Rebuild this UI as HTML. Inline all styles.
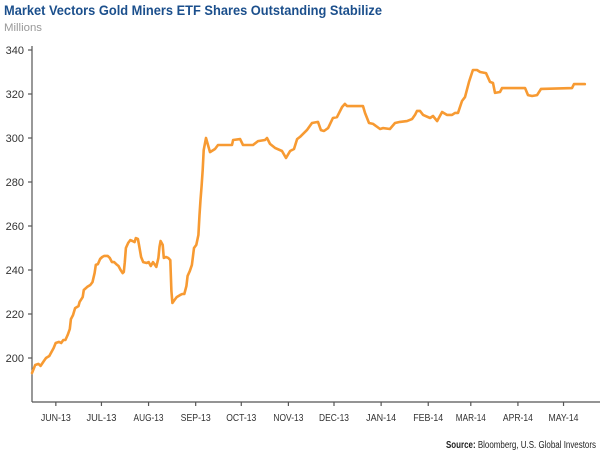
<!DOCTYPE html>
<html><head><meta charset="utf-8"><style>
html,body{margin:0;padding:0;background:#fff;}
svg{display:block;font-family:"Liberation Sans",sans-serif;}
</style></head><body>
<svg id="chart" width="600" height="454" viewBox="0 0 600 454" xmlns="http://www.w3.org/2000/svg">
<text x="4" y="15" font-size="14" font-weight="bold" fill="#1b4f8c" textLength="378" lengthAdjust="spacingAndGlyphs">Market Vectors Gold Miners ETF Shares Outstanding Stabilize</text>
<text x="4" y="31" font-size="11" fill="#999" textLength="38" lengthAdjust="spacingAndGlyphs">Millions</text>
<g id="axes"></g>
<g id="series"></g>
<text x="596" y="448" font-size="10" fill="#222" text-anchor="end" textLength="150" lengthAdjust="spacingAndGlyphs"><tspan font-weight="bold">Source:</tspan> Bloomberg, U.S. Global Investors</text>
</svg>
<script>
// days since 2013-05-15
const days = [1.3,3.4,5.6,7,9.1,10.5,12.7,14.1,15.5,16.9,19.1,20.5,21.9,23.3,24.8,26.2,26.9,28.3,29.7,31.9,32.6,34.7,35.4,37.6,39.7,41.1,42.5,43.3,44.7,46.1,47.5,48.9,51.1,52.5,53.9,55.3,56.7,58.2,59.6,61,61.7,62.4,63.1,64.6,66,67.4,68.8,69.6,71,71.7,73.1,74.5,76.7,78.1,79.5,80.9,83.1,84.5,85.2,85.9,87.3,88,89.5,90.9,92.3,93,93.7,95.1,96.5,98.7,100.1,101.5,102.9,103.7,105.1,106.5,107.9,109.4,110.8,111.5,112.2,112.9,113.6,114.3,115.8,
118.4,121.7,123.7,132.9,133.6,138.2,140.1,146.7,150,154.6,155.9,157.9,161.2,165.8,168.4,171.1,173.7,175.7,177.6,182.2,185.5,189.5,191.4,193.4,196.1,199.3,202,205.3,207.2,208.6,219.1,220.4,223,225.7,230.3,232.2,236.8,240.1,243.4,248,251.3,253.3,254.6,256.6,258.6,263.2,265.1,267.8,271.1,274.3,277.6,279.6,281.6,284.2,286.2,288.8,291.4,294.1,296.1,300,302.6,304.6,305.9,309.2,310.5,325.7,327.6,330.3,333.6,336.2,356.6,357.9,365];
const shares = [193.2,196.8,197.3,196.4,198.6,200,200.9,202.7,204.5,206.8,207.3,206.8,208.2,208.2,210.5,213.2,217.7,219.5,222.7,223.6,225.5,227.7,230.9,232.3,233.2,234.5,238.6,242.3,242.7,245,245.9,246.4,246.4,245.5,243.6,243.6,242.7,241.8,240,238.6,239.1,243.6,250,252.3,253.6,253.2,252.7,254.5,254.1,251.4,245.9,243.6,243.2,243.6,241.8,243.6,241.4,245.5,250.5,253.2,251.4,245.5,245.9,245.5,244.5,230.5,225,226.4,227.7,228.6,229.1,229.1,232.7,237.3,239.5,242.3,250,251.4,255.9,265,271.8,278.2,285.5,294.5,300,
293.6,295,296.8,296.8,299.1,299.5,296.8,296.8,298.6,299.1,300,297.3,295.5,294.1,290.9,294.1,295,299.5,300.5,303.6,306.8,307.3,303.6,303.2,304.5,309.1,309.5,314.1,315.5,314.5,314.5,311.4,306.8,306.4,304.1,304.5,304.1,306.8,307.3,307.7,308.6,310.5,312.3,312.3,310.5,309.1,310,307.7,311.8,310.5,310.5,311.4,311.4,316.8,318.6,325.5,330.9,330.9,330,329.5,325.5,325,320.5,320.9,322.7,322.7,319.5,319.1,319.5,322.3,322.7,324.5,324.5];
const yTicks = [200,220,240,260,280,300,320,340];
const monthLabels = ["JUN-13","JUL-13","AUG-13","SEP-13","OCT-13","NOV-13","DEC-13","JAN-14","FEB-14","MAR-14","APR-14","MAY-14"];
const monthDays = [17,47,78,109,139,170,200,231,262,290,321,351];

const NS="http://www.w3.org/2000/svg";
const x0=30, xk=1.52, yBase=402, yMin=180, yk=2.2;
function xs(d){return x0+d*xk;}
function ys(v){return yBase-(v-yMin)*yk;}
function mk(t,a,p){const e=document.createElementNS(NS,t);for(const k in a)e.setAttribute(k,a[k]);p.appendChild(e);return e;}
const axes=document.getElementById('axes');
let e=mk('line',{x1:32,y1:46,x2:32,y2:yBase,stroke:'#555','stroke-width':1.2},axes);


e=mk('line',{x1:32,y1:yBase,x2:600,y2:yBase,stroke:'#555','stroke-width':1.2},axes);


yTicks.forEach(v=>{
  const y=ys(v);
  let t=mk('line',{x1:28,y1:y,x2:32,y2:y,stroke:'#555','stroke-width':1.2},axes);
  
  
  let l=mk('text',{x:24,y:y+4,'font-size':11,fill:'#333','text-anchor':'end'},axes);
  l.textContent=v;
  
  
});
monthDays.forEach((d,i)=>{
  const x=xs(d);
  let t=mk('line',{x1:x,y1:yBase,x2:x,y2:yBase+4,stroke:'#555','stroke-width':1.2},axes);
  
  
  let l=mk('text',{x:x,y:yBase+19,'font-size':10.5,fill:'#333','text-anchor':'middle',textLength:30,lengthAdjust:'spacingAndGlyphs'},axes);
  l.textContent=monthLabels[i];
  
  
});
const pts=days.map((d,i)=>xs(d).toFixed(1)+','+ys(shares[i]).toFixed(1)).join(' ');
const line=mk('polyline',{points:pts,fill:'none',stroke:'#f79a32','stroke-width':2.6,'stroke-linejoin':'round','stroke-linecap':'round'},document.getElementById('series'));


</script>
</body></html>
